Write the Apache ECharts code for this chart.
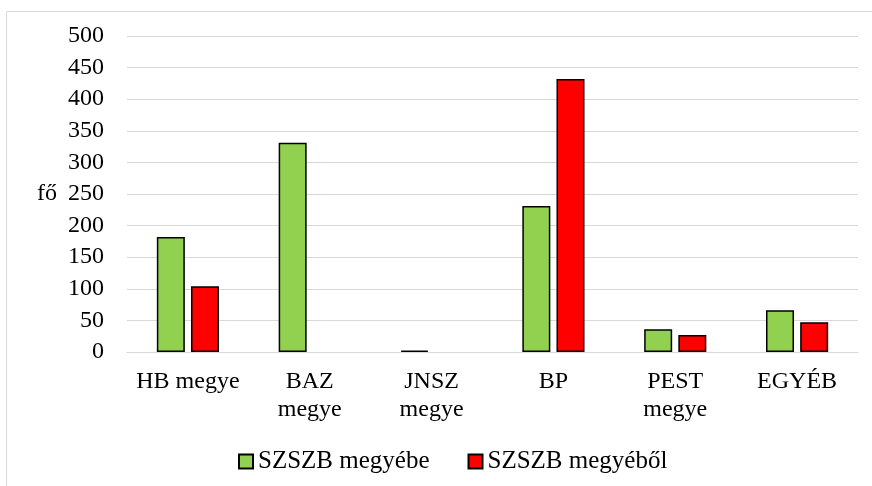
<!DOCTYPE html>
<html>
<head>
<meta charset="utf-8">
<script src="https://cdn.jsdelivr.net/npm/echarts@6/dist/echarts.min.js"></script>
<style>
  html, body { margin: 0; padding: 0; background: #fff; }
  #main { width: 872px; height: 486px; }
</style>
</head>
<body>
<div id="main"></div>
<script>
// adatok
var categories = ['HB megye', 'BAZ\nmegye', 'JNSZ\nmegye', 'BP', 'PEST\nmegye', 'EGYÉB'];
var megyebe = [182, 331, 2, 231, 36, 66];
var megyebol = [104, 0, 0, 432, 27, 47];
var seriesNames = ['SZSZB megyébe', 'SZSZB megyéből'];
var yTicks = [0, 500, 50];

var font = 'Liberation Serif, Times New Roman, serif';
var myChart = echarts.init(document.getElementById('main'));

// 0 értékű oszlop nem látszik
function hideZero(arr) {
    return arr.map(function (v) { return v === 0 ? '-' : v; });
}

var option = {
    animation: false,
    textStyle: {fontFamily: font},
    graphic: [{
        type: 'rect',
        shape: {x: 6.5, y: 11.5, width: 900, height: 600},
        style: {fill: 'none', stroke: '#d9d9d9', lineWidth: 1},
        silent: true
    }],
    grid: {left: 127, right: 14, top: 36, bottom: 134},
    legend: {
        data: seriesNames,
        left: 233,
        top: 444,
        itemWidth: 14,
        itemHeight: 14,
        itemGap: 38,
        icon: 'rect',
        textStyle: {fontFamily: font, fontSize: 25, color: '#000'}
    },
    xAxis: {
        type: 'category',
        data: categories,
        axisLine: {lineStyle: {color: '#d9d9d9', width: 1}},
        axisTick: {show: false},
        axisLabel: {fontFamily: font, fontSize: 24, color: '#000', margin: 16, lineHeight: 28, interval: 0}
    },
    yAxis: {
        type: 'value',
        min: yTicks[0],
        max: yTicks[1],
        interval: yTicks[2],
        name: 'fő',
        nameLocation: 'middle',
        nameRotate: 0,
        nameGap: 70,
        nameTextStyle: {fontFamily: font, fontSize: 24, color: '#000'},
        axisLine: {show: false},
        axisTick: {show: false},
        axisLabel: {fontFamily: font, fontSize: 24, color: '#000', margin: 23},
        splitLine: {lineStyle: {color: '#d9d9d9', width: 1}}
    },
    series: [
        {
            name: seriesNames[0],
            type: 'bar',
            data: hideZero(megyebe),
            barWidth: 28,
            barGap: '22%',
            itemStyle: {color: '#92d050', borderColor: '#000', borderWidth: 1.5}
        },
        {
            name: seriesNames[1],
            type: 'bar',
            data: hideZero(megyebol),
            barWidth: 28,
            itemStyle: {color: '#ff0000', borderColor: '#000', borderWidth: 1.5}
        }
    ]
};

myChart.setOption(option);
</script>
</body>
</html>
